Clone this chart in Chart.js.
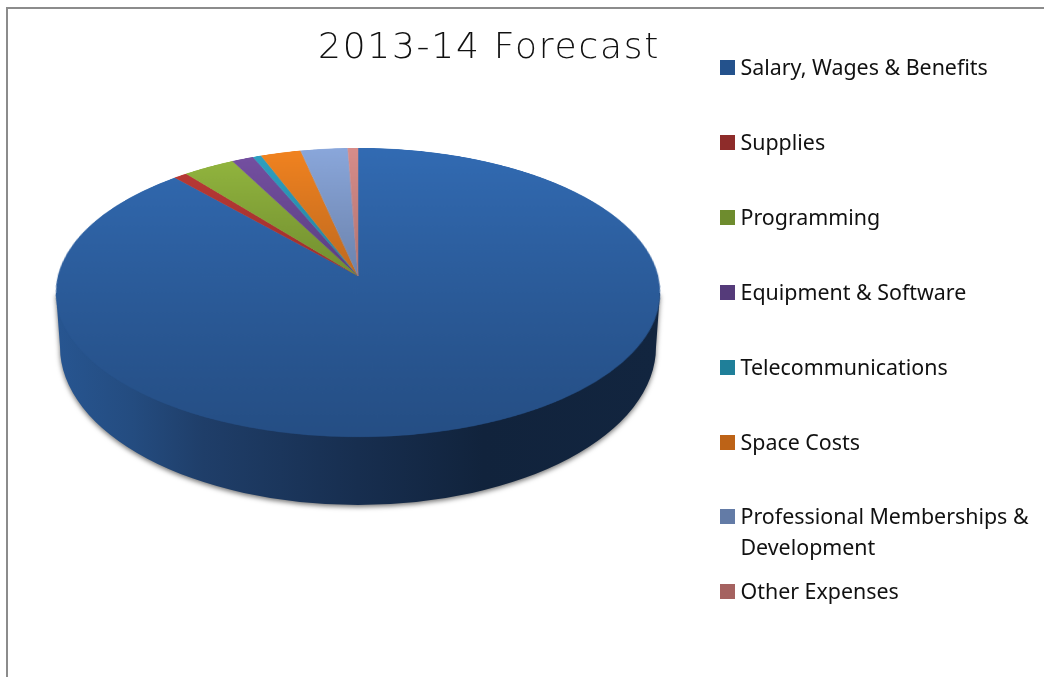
<!DOCTYPE html>
<html>
<head>
<meta charset="utf-8">
<style>
html,body{margin:0;padding:0;background:#fff;width:1044px;height:677px;overflow:hidden}
#frame{position:absolute;left:6px;top:7px;width:1038px;height:670px;border-left:2px solid #8c8c8c;border-top:2px solid #8c8c8c;box-sizing:border-box}
#c{position:absolute;left:0;top:0}
#title{position:absolute;left:318px;top:25px;font:200 36px "DejaVu Sans";letter-spacing:1.75px;color:#111;white-space:nowrap}
.li{position:absolute;left:720px;font:21.4px "Noto Sans";color:#111;white-space:nowrap;line-height:31px}
.sw{position:absolute;left:0;top:8px;width:15px;height:15px}
.tx{position:absolute;left:20.5px;top:-1px}
</style>
<script src="https://cdn.jsdelivr.net/npm/chart.js@4"></script>
</head>
<body>
<div id="frame"></div>
<canvas id="c" width="1044" height="677"></canvas>
<div id="title"></div>
<div id="legend"></div>
<script>
const chartTitle = "2013-14 Forecast";
const categories = ["Salary, Wages & Benefits","Supplies","Programming","Equipment & Software","Telecommunications","Space Costs","Professional Memberships & Development","Other Expenses"];
const values = [88.2,0.8,3.1,1.3,0.5,2.4,2.8,0.6];
const sliceTop = ["#326BB3","#BE3C38","#95B940","#7651A3","#2EA2C4","#F2831F","#8AA7DB","#D88D8A"];
const sliceBottom = ["#254E84","#7E2220","#4F6420","#3F2C5E","#1C6075","#8C5020","#4F6080","#8C5A58"];
const swatches = ["#24528C","#8E2C2A","#6E8C2E","#553B7A","#1F7F99","#BD6317","#637BA6","#A56260"];
const legendTops = [52,127,202,277,352,427,501,576];

// pie projection (perspective of the flat pie)
const P = {cx:358, y0:276, a:300, b:142.6, k:-0.114, radius:300, wallRx:298, wallRy:158, wallCy:347, topCy:293, topRx:302};

document.getElementById('title').textContent = chartTitle;
const lg = document.getElementById('legend');
categories.forEach((c,i)=>{
  const d=document.createElement('div');d.className='li';d.style.top=legendTops[i]+'px';
  const s=document.createElement('div');s.className='sw';s.style.background=swatches[i];
  const t=document.createElement('div');t.className='tx';
  if(c.startsWith('Professional')){t.innerHTML='Professional Memberships &amp;<br>Development';}else{t.textContent=c;}
  d.appendChild(s);d.appendChild(t);lg.appendChild(d);
});

function sliceFill(ctx2){
  const chart=ctx2.chart, g=chart.ctx.createLinearGradient(0,chart.height/2-P.radius,0,chart.height/2+P.radius);
  g.addColorStop(0,sliceTop[ctx2.dataIndex]);g.addColorStop(1,sliceBottom[ctx2.dataIndex]);
  return g;
}

const perspective = {
  id:'perspective',
  afterDatasetsDraw(chart){
    const arc=chart.getDatasetMeta(0).data[0];
    const R=arc.outerRadius, sx=arc.x, sy=arc.y;
    const off=document.createElement('canvas');off.width=chart.width;off.height=chart.height;
    off.getContext('2d').drawImage(chart.canvas,0,0);
    const ctx=chart.ctx;
    ctx.save();
    ctx.setTransform(1,0,0,1,0,0);
    ctx.clearRect(0,0,chart.width,chart.height);
    // side wall
    const w=ctx.createLinearGradient(P.cx-P.wallRx,0,P.cx+P.wallRx,0);
    [[0,'#275590'],[0.12,'#244C80'],[0.24,'#1F3E69'],[0.5,'#172E4F'],[0.71,'#11233C'],[1,'#12253F']].forEach(s=>w.addColorStop(s[0],s[1]));
    ctx.fillStyle=w;
    ctx.shadowColor='rgba(0,0,0,0.55)';ctx.shadowBlur=5;ctx.shadowOffsetY=2;
    ctx.beginPath();
    ctx.moveTo(P.cx-P.topRx,P.topCy);
    ctx.lineTo(P.cx-P.wallRx,P.wallCy);
    ctx.ellipse(P.cx,P.wallCy,P.wallRx,P.wallRy,0,Math.PI,0,true);
    ctx.lineTo(P.cx+P.topRx,P.topCy);
    ctx.closePath();ctx.fill();
    ctx.shadowColor='transparent';ctx.shadowBlur=0;ctx.shadowOffsetY=0;
    // top surface, row by row
    const y1=Math.floor(P.y0-P.b/(1-P.k)-2), y2=Math.ceil(P.y0+P.b/(1+P.k)+2);
    for(let Y=y1;Y<y2;Y++){
      const t0=Y-P.y0,t1=t0+1;
      const v0=t0/(P.b-P.k*t0), v1=t1/(P.b-P.k*t1);
      const vm=(v0+v1)/2;
      if(v1<-1.01||v0>1.01)continue;
      const s=P.a/((1+P.k*vm)*R);
      ctx.drawImage(off,sx-R-2,sy+v0*R,2*R+4,(v1-v0)*R,P.cx-(R+2)*s,Y,(2*R+4)*s,1);
    }
    ctx.restore();
  }
};

new Chart(document.getElementById('c'),{
  type:'pie',
  data:{labels:categories,datasets:[{data:values,radius:P.radius,backgroundColor:sliceFill,borderColor:sliceFill,borderWidth:0.5}]},
  options:{responsive:false,animation:false,devicePixelRatio:1,events:[],layout:{padding:0},
    plugins:{legend:{display:false},title:{display:false},tooltip:{enabled:false}}},
  plugins:[perspective]
});
</script>
</body>
</html>
